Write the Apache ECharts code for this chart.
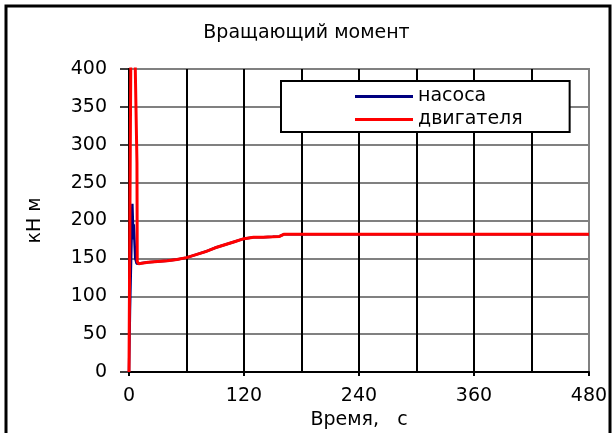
<!DOCTYPE html>
<html>
<head>
<meta charset="utf-8">
<script src="https://cdn.jsdelivr.net/npm/echarts@6/dist/echarts.min.js"></script>
<style>
  html, body { margin: 0; padding: 0; background: #fff; }
  #chart { width: 613px; height: 433px; }
</style>
</head>
<body>
<div id="chart"></div>
<script>
// Torque during start-up: pump (насоса) and motor (двигателя), kN·m vs time, s
const pumpTime   = [0, 1, 3.5, 4.2, 4.6, 5, 6.5, 8, 10, 20, 30, 40, 50, 60, 70, 80, 90, 100, 110, 120, 130, 140, 150, 157, 162, 480];
const pumpTorque = [0, 80, 222, 222, 175, 195, 150, 143, 143, 145, 146, 147, 148.5, 151, 155, 159, 164, 168, 172, 176, 178, 178, 178.5, 179, 182, 182];

const motorTime   = [0, 2, 6, 8.3, 8.6, 10, 20, 30, 40, 50, 60, 70, 80, 90, 100, 110, 120, 130, 140, 150, 157, 162, 480];
const motorTorque = [0, 440, 440, 276, 146, 143, 145, 146, 147, 148.5, 151, 155, 159, 164, 168, 172, 176, 178, 178, 178.5, 179, 182, 182];

const seriesNames = ['насоса', 'двигателя'];
const xTicks = [0, 120, 240, 360, 480];

const pairs = (xs, ys) => xs.map((x, i) => [x, ys[i]]);

const FONT = 'DejaVu Sans';
const FS = 19;
const chart = echarts.init(document.getElementById('chart'));
chart.setOption({
  animation: false,
  backgroundColor: '#fff',
  textStyle: { fontFamily: FONT },
  title: {
    text: 'Вращающий момент',
    left: 'center',
    top: 19,
    textStyle: { fontFamily: FONT, fontSize: FS, fontWeight: 'normal', color: '#000' }
  },
  graphic: [{
    type: 'rect',
    z: -1,
    shape: { x: 6, y: 6, width: 604, height: 440 },
    style: { fill: 'none', stroke: '#000', lineWidth: 3 }
  }],
  legend: {
    orient: 'vertical',
    left: 281,
    top: 81,
    padding: [5, 47, 2, 74],
    icon: 'rect',
    itemWidth: 58,
    itemHeight: 3,
    itemGap: 2,
    backgroundColor: '#fff',
    borderColor: '#000',
    borderWidth: 2,
    borderRadius: 0,
    textStyle: { fontFamily: FONT, fontSize: FS, color: '#000', lineHeight: 21 },
    data: seriesNames
  },
  grid: {
    left: 129, right: 24, top: 69, bottom: 61,
    outerBoundsMode: 'none',
    show: true, borderColor: '#808080', borderWidth: 2
  },
  xAxis: {
    type: 'value',
    min: xTicks[0],
    max: xTicks[xTicks.length - 1],
    interval: 120,
    name: 'Время,   с',
    nameLocation: 'middle',
    nameGap: 37,
    nameTextStyle: { fontFamily: FONT, fontSize: FS, color: '#000' },
    axisLine: { show: true, lineStyle: { color: '#000', width: 2 } },
    axisTick: { show: true, length: 4, lineStyle: { color: '#000', width: 2 } },
    axisLabel: { margin: 15, fontFamily: FONT, fontSize: FS, color: '#000' },
    splitLine: { show: true, lineStyle: { color: ['#000', '#000', '#000', '#000', '#808080'], width: 2 } },
    minorTick: { show: false, splitNumber: 2 },
    minorSplitLine: { show: true, lineStyle: { color: '#000', width: 2 } }
  },
  yAxis: {
    type: 'value',
    min: 0,
    max: 400,
    interval: 50,
    name: 'кН м',
    nameLocation: 'middle',
    nameGap: 84,
    nameRotate: 90,
    nameTextStyle: { fontFamily: FONT, fontSize: FS, color: '#000' },
    axisLine: { show: true, lineStyle: { color: '#000', width: 2 } },
    axisTick: { show: true, length: 9, lineStyle: { color: '#000', width: 1.5 } },
    axisLabel: { margin: 22, fontFamily: FONT, fontSize: FS, color: '#000' },
    splitLine: { show: true, lineStyle: { color: '#808080', width: 2 } }
  },
  series: [
    {
      name: seriesNames[0],
      type: 'line',
      data: pairs(pumpTime, pumpTorque),
      symbol: 'none',
      clip: true,
      color: '#000080',
      lineStyle: { color: '#000080', width: 2.5 }
    },
    {
      name: seriesNames[1],
      type: 'line',
      data: pairs(motorTime, motorTorque),
      symbol: 'none',
      clip: true,
      color: '#ff0000',
      lineStyle: { color: '#ff0000', width: 3 }
    }
  ]
});
</script>
</body>
</html>
